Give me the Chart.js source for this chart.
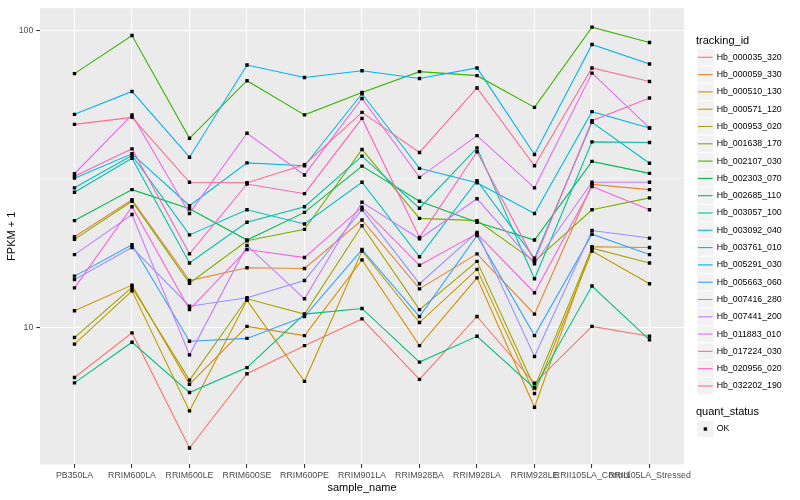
<!DOCTYPE html>
<html>
<head>
<meta charset="utf-8">
<script src="https://cdn.jsdelivr.net/npm/chart.js@4.4.1/dist/chart.umd.min.js"></script>
<style>html,body{margin:0;padding:0;background:#fff;}canvas{display:block;}</style>
</head>
<body>
<canvas id="c" width="800" height="500"></canvas>
<script>
// ---- data ----
const categories = ["PB350LA","RRIM600LA","RRIM600LE","RRIM600SE","RRIM600PE","RRIM901LA","RRIM928BA","RRIM928LA","RRIM928LE","RRII105LA_Control","RRII105LA_Stressed"];

const seriesNames = ["Hb_000035_320","Hb_000059_330","Hb_000510_130","Hb_000571_120","Hb_000953_020","Hb_001638_170","Hb_002107_030","Hb_002303_070","Hb_002685_110","Hb_003057_100","Hb_003092_040","Hb_003761_010","Hb_005291_030","Hb_005663_060","Hb_007416_280","Hb_007441_200","Hb_011883_010","Hb_017224_030","Hb_020956_020","Hb_032202_190"];

const seriesColors = ["#F8766D","#EA8331","#D89000","#C09B00","#A3A500","#7CAE00","#39B600","#00BB4E","#00BF7D","#00C1A3","#00BFC4","#00BAE0","#00B0F6","#35A2FF","#9590FF","#C77CFF","#E76BF3","#FA62DB","#FF62BC","#FF6C91"];

const hb000035_320 = [6.8, 9.6, 3.94, 7.0, 8.7, 10.7, 6.7, 10.9, 6.5, 10.1, 9.35];
const hb000059_330 = [20.2, 26.9, 14.4, 15.9, 15.8, 23.0, 13.5, 17.7, 11.1, 30.3, 29.1];
const hb000510_130 = [11.4, 13.9, 6.45, 10.1, 9.4, 16.9, 8.7, 14.7, 5.4, 18.7, 18.6];
const hb000571_120 = [8.8, 13.3, 5.25, 12.35, 6.6, 18.1, 10.4, 15.7, 6.0, 18.1, 14.05];
const hb000953_020 = [9.26, 13.65, 6.66, 12.5, 11.1, 22.0, 11.5, 16.7, 6.3, 18.5, 16.5];
const hb001638_170 = [19.8, 26.6, 14.1, 19.6, 21.4, 39.7, 23.3, 22.9, 16.7, 24.9, 27.3];
const hb002107_030 = [71.4, 95.9, 43.3, 67.6, 51.9, 61.7, 72.5, 70.3, 55.0, 102.3, 90.9];
const hb002303_070 = [22.9, 29.1, 25.1, 19.7, 24.4, 34.9, 26.6, 22.6, 19.7, 36.2, 33.0];
const hb002685_110 = [6.52, 8.93, 6.05, 7.34, 11.1, 11.6, 7.66, 9.35, 6.26, 13.8, 9.1];
const hb003057_100 = [28.5, 37.1, 16.5, 22.6, 25.5, 37.7, 25.2, 40.2, 14.6, 42.1, 41.9];
const hb003092_040 = [29.5, 37.9, 20.5, 24.9, 22.3, 30.8, 17.3, 31.2, 17.1, 49.0, 35.7];
const hb003761_010 = [31.8, 38.4, 25.7, 35.8, 35.0, 61.1, 34.3, 30.7, 24.2, 53.2, 46.9];
const hb005291_030 = [52.1, 62.2, 37.4, 76.3, 69.3, 73.0, 68.8, 74.6, 38.2, 89.5, 76.9];
const hb005663_060 = [14.9, 19.0, 9.0, 9.2, 10.9, 18.3, 10.9, 20.4, 9.4, 20.6, 17.6];
const hb007416_280 = [14.5, 18.6, 11.8, 12.6, 14.4, 24.9, 14.05, 20.9, 8.0, 21.2, 20.0];
const hb007441_200 = [17.6, 24.0, 8.1, 18.9, 12.5, 26.4, 19.9, 27.1, 16.4, 30.8, 30.8];
const hb011883_010 = [32.9, 51.9, 24.2, 45.0, 32.6, 58.9, 32.0, 44.2, 29.5, 71.7, 46.9];
const hb017224_030 = [13.6, 25.5, 11.5, 18.3, 17.2, 25.4, 16.2, 20.7, 13.1, 29.8, 24.9];
const hb020956_020 = [32.3, 39.9, 17.7, 30.4, 28.2, 50.5, 20.1, 39.0, 16.8, 49.6, 59.1];
const hb032202_190 = [48.2, 50.9, 30.8, 30.7, 35.3, 52.9, 38.8, 63.9, 35.0, 74.6, 67.2];

const seriesValues = [hb000035_320, hb000059_330, hb000510_130, hb000571_120, hb000953_020, hb001638_170, hb002107_030, hb002303_070, hb002685_110, hb003057_100, hb003092_040, hb003761_010, hb005291_030, hb005663_060, hb007416_280, hb007441_200, hb011883_010, hb017224_030, hb020956_020, hb032202_190];

const yMajorBreaks = [10, 100];
const yMinorBreaks = [31.6228];
const yTickLabels = ["10", "100"];
const quantStatus = ["OK"];

// ---- chart ----
const FF = "'Liberation Sans', Arial, Helvetica, sans-serif";

const datasets = seriesValues.map((vals, i) => ({
  label: seriesNames[i],
  data: vals.map((v, j) => ({ x: j, y: v })),
  borderColor: seriesColors[i],
  backgroundColor: seriesColors[i],
  borderWidth: 1.1,
  pointRadius: 0,
  pointHoverRadius: 0,
  fill: false,
  tension: 0,
  order: 40 - i
}));
datasets.push({
  label: quantStatus[0],
  data: seriesValues.flatMap(vals => vals.map((v, j) => ({ x: j, y: v }))),
  showLine: false,
  pointStyle: 'rect',
  pointRadius: 2.4,
  pointBackgroundColor: '#000000',
  pointBorderWidth: 0,
  order: 0
});

const panelBg = {
  id: 'panelBg',
  beforeDraw(chart) {
    const { ctx, chartArea: a } = chart;
    ctx.save();
    ctx.fillStyle = '#FFFFFF';
    ctx.fillRect(0, 0, chart.width, chart.height);
    ctx.fillStyle = '#EBEBEB';
    ctx.fillRect(a.left, a.top, a.right - a.left, a.bottom - a.top);
    ctx.restore();
  }
};

const ggLegend = {
  id: 'ggLegend',
  afterDraw(chart) {
    const ctx = chart.ctx;
    ctx.save();
    ctx.textBaseline = 'middle';
    ctx.textAlign = 'left';
    ctx.fillStyle = '#000000';
    ctx.font = '11px ' + FF;
    ctx.fillText('tracking_id', 696, 40.7);
    ctx.font = '8.8px ' + FF;
    seriesNames.forEach((n, i) => {
      const cy = 57.3 + 17.3 * i;
      ctx.fillStyle = '#F2F2F2';
      ctx.fillRect(697.3, cy - 8.1, 16.3, 16.2);
      ctx.strokeStyle = seriesColors[i];
      ctx.lineWidth = 1.1;
      ctx.beginPath();
      ctx.moveTo(698, cy);
      ctx.lineTo(712.6, cy);
      ctx.stroke();
      ctx.fillStyle = '#000000';
      ctx.fillText(n, 716.7, cy);
    });
    ctx.font = '11px ' + FF;
    ctx.fillText('quant_status', 696, 412.3);
    const oy = 429;
    ctx.fillStyle = '#F2F2F2';
    ctx.fillRect(697.3, oy - 8.1, 16.3, 16.2);
    ctx.fillStyle = '#000000';
    ctx.fillRect(705.4 - 1.7, oy - 1.7, 3.4, 3.4);
    ctx.font = '8.8px ' + FF;
    ctx.fillText(quantStatus[0], 716.7, oy);
    ctx.restore();
  }
};

const isMajor = (ctx) => ctx && ctx.tick && yMajorBreaks.some(b => Math.abs(b - ctx.tick.value) < 1e-6);

new Chart(document.getElementById('c'), {
  type: 'line',
  data: { datasets },
  options: {
    responsive: false,
    animation: false,
    devicePixelRatio: 1,
    layout: { padding: { left: 0, right: 116, top: 7.3, bottom: 0 } },
    plugins: { legend: { display: false }, tooltip: { enabled: false } },
    events: [],
    scales: {
      x: {
        type: 'linear',
        min: -0.6,
        max: 10.6,
        afterBuildTicks: (s) => { s.ticks = categories.map((c, i) => ({ value: i })); },
        afterFit: (s) => { s.height = 35.6; },
        ticks: {
          autoSkip: false, maxRotation: 0, minRotation: 0, padding: 2,
          color: '#4D4D4D', font: { family: FF, size: 8.8 },
          callback: (v) => categories[Math.round(v)]
        },
        grid: { color: '#FFFFFF', lineWidth: 1.07, drawTicks: true, tickLength: 3.7, tickColor: '#333333', tickWidth: 1.07 },
        border: { display: false },
        title: { display: true, text: 'sample_name', color: '#000000', font: { family: FF, size: 11 }, padding: { top: 0, bottom: 5.7 } }
      },
      y: {
        type: 'logarithmic',
        min: 3.47,
        max: 118.5,
        afterBuildTicks: (s) => { s.ticks = yMajorBreaks.concat(yMinorBreaks).sort((a, b) => a - b).map(v => ({ value: v })); },
        afterFit: (s) => { s.width = 40; },
        ticks: {
          autoSkip: false, padding: 2.9,
          color: '#4D4D4D', font: { family: FF, size: 8.8 },
          callback: (v) => { const k = yMajorBreaks.findIndex(b => Math.abs(b - v) < 1e-6); return k >= 0 ? yTickLabels[k] : ''; }
        },
        grid: {
          color: '#FFFFFF',
          lineWidth: (ctx) => isMajor(ctx) ? 1.07 : 0.53,
          drawTicks: true, tickLength: 3.7,
          tickColor: (ctx) => isMajor(ctx) ? '#333333' : 'rgba(0,0,0,0)',
          tickWidth: 1.07
        },
        border: { display: false },
        title: { display: true, text: 'FPKM + 1', color: '#000000', font: { family: FF, size: 11 }, padding: { top: 5.4, bottom: 0 } }
      }
    }
  },
  plugins: [panelBg, ggLegend]
});
</script>
</body>
</html>
